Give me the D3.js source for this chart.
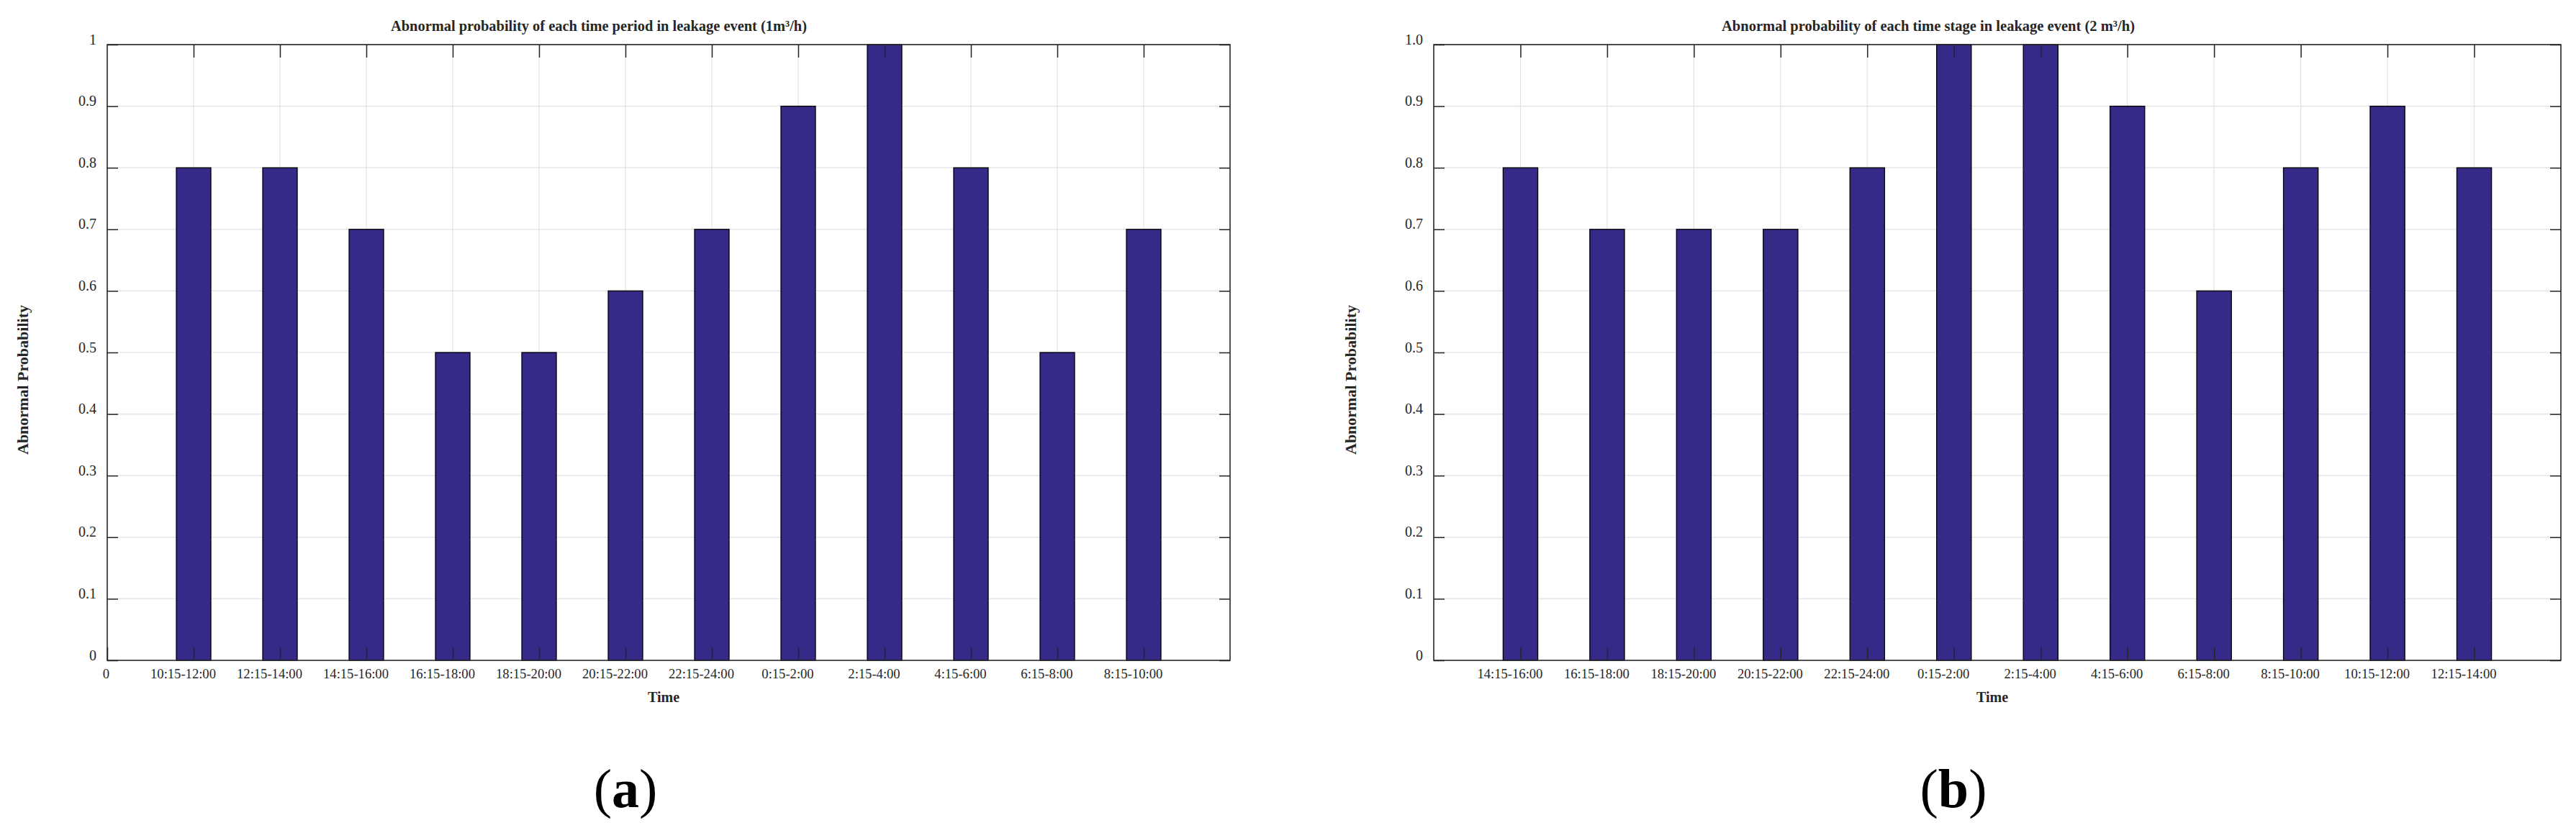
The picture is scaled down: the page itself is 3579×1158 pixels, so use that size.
<!DOCTYPE html>
<html>
<head>
<meta charset="utf-8">
<script src="https://cdn.jsdelivr.net/npm/d3@7"></script>
<style>
  html, body { margin: 0; padding: 0; background: #ffffff; }
  svg { display: block; }
  text { font-family: "Liberation Serif", "Times New Roman", serif; fill: #262626; }
</style>
</head>
<body>
<svg id="chart" width="3579" height="1158"></svg>
<script>
// ---------- data ----------
const categoriesA = ["10:15-12:00","12:15-14:00","14:15-16:00","16:15-18:00","18:15-20:00","20:15-22:00","22:15-24:00","0:15-2:00","2:15-4:00","4:15-6:00","6:15-8:00","8:15-10:00"];
const valuesA = [0.8, 0.8, 0.7, 0.5, 0.5, 0.6, 0.7, 0.9, 1.0, 0.8, 0.5, 0.7];
const yTickValues = [0, 0.1, 0.2, 0.3, 0.4, 0.5, 0.6, 0.7, 0.8, 0.9, 1.0];
const yTickLabelsA = ["0","0.1","0.2","0.3","0.4","0.5","0.6","0.7","0.8","0.9","1"];
const titleA = "Abnormal probability of each time period in leakage event (1m\u00B3/h)";

const categoriesB = ["14:15-16:00","16:15-18:00","18:15-20:00","20:15-22:00","22:15-24:00","0:15-2:00","2:15-4:00","4:15-6:00","6:15-8:00","8:15-10:00","10:15-12:00","12:15-14:00"];
const valuesB = [0.8, 0.7, 0.7, 0.7, 0.8, 1.0, 1.0, 0.9, 0.6, 0.8, 0.9, 0.8];
const yTickLabelsB = ["0","0.1","0.2","0.3","0.4","0.5","0.6","0.7","0.8","0.9","1.0"];
const titleB = "Abnormal probability of each time stage in leakage event (2 m\u00B3/h)";

const xLabel = "Time";
const yLabel = "Abnormal Probability";

// ---------- drawing ----------
const svg = d3.select("#chart");
svg.append("rect").attr("width", 3579).attr("height", 1158).attr("fill", "#ffffff");

const AXIS = "#262626", GRID = "#e1e1e1", BAR = "#352a87";

function drawPanel(cfg) {
  const x = d3.scaleLinear().domain([0, 13]).range([cfg.left, cfg.right]);
  const y = d3.scaleLinear().domain([0, 1]).range([918, 62]);
  const g = svg.append("g");
  const xTicks = d3.range(0, 13);

  // grid
  g.append("g").selectAll("line.vg").data(xTicks.slice(1)).join("line")
    .attr("x1", d => x(d)).attr("x2", d => x(d))
    .attr("y1", y(0)).attr("y2", y(1))
    .attr("stroke", GRID).attr("stroke-width", 1.2);
  g.append("g").selectAll("line.hg").data(yTickValues.slice(1)).join("line")
    .attr("x1", x(0)).attr("x2", x(13))
    .attr("y1", d => y(d)).attr("y2", d => y(d))
    .attr("stroke", GRID).attr("stroke-width", 1.2);

  // bars
  const bw = 0.4;
  g.append("g").selectAll("rect").data(cfg.values).join("rect")
    .attr("x", (d, i) => x(i + 1 - bw / 2))
    .attr("width", x(bw) - x(0))
    .attr("y", d => y(d))
    .attr("height", d => y(0) - y(d))
    .attr("fill", BAR).attr("stroke", "#000").attr("stroke-width", 1.3);

  // left axis
  const la = g.append("g").attr("transform", `translate(${x(0)},0)`)
    .call(d3.axisLeft(y).tickValues(yTickValues).tickSize(-15).tickPadding(15)
      .tickFormat((d, i) => cfg.yLabels[i]));
  la.select(".domain").remove();
  la.selectAll("line").attr("stroke", AXIS).attr("stroke-width", 1.5);
  la.selectAll("text").attr("dy", "-0.05em").style("font-size", "20px");

  // right axis (ticks only)
  const ra = g.append("g").attr("transform", `translate(${x(13)},0)`)
    .call(d3.axisRight(y).tickValues(yTickValues).tickSize(-15).tickFormat(""));
  ra.select(".domain").remove();
  ra.selectAll("line").attr("stroke", AXIS).attr("stroke-width", 1.5);

  // top axis (ticks only)
  const ta = g.append("g").attr("transform", `translate(0,${y(1)})`)
    .call(d3.axisTop(x).tickValues(xTicks.slice(1)).tickSize(-18).tickFormat(""));
  ta.select(".domain").remove();
  ta.selectAll("line").attr("stroke", AXIS).attr("stroke-width", 1.5);

  // bottom axis
  const ticksB = cfg.showZero ? xTicks : xTicks.slice(1);
  const ba = g.append("g").attr("transform", `translate(0,${y(0)})`)
    .call(d3.axisBottom(x).tickValues(ticksB).tickSize(-18).tickPadding(12)
      .tickFormat(d => d === 0 ? "0" : cfg.categories[d - 1]));
  ba.select(".domain").remove();
  ba.selectAll("line").attr("stroke", AXIS).attr("stroke-width", 1.5);
  ba.selectAll("text").style("font-size", "18.6px")
    .attr("dx", d => d === 0 ? -2 : -15);

  // box
  g.append("rect")
    .attr("x", x(0)).attr("y", y(1))
    .attr("width", x(13) - x(0)).attr("height", y(0) - y(1))
    .attr("fill", "none").attr("stroke", AXIS).attr("stroke-width", 1.6);

  // title
  g.append("text").attr("x", cfg.titleX).attr("y", 43)
    .attr("textLength", cfg.titleLen).attr("lengthAdjust", "spacingAndGlyphs")
    .style("font-size", "22px").style("font-weight", "bold").text(cfg.title);

  // x label
  g.append("text").attr("x", cfg.xLabelX).attr("y", 976).attr("text-anchor", "middle")
    .style("font-size", "20px").style("font-weight", "bold").text(xLabel);

  // y label
  g.append("text").attr("transform", `translate(${cfg.yLabelX},528) rotate(-90)`)
    .attr("text-anchor", "middle")
    .style("font-size", "22px").style("font-weight", "bold").text(yLabel);

  // panel letter
  const pl = g.append("text").attr("x", cfg.letterX).attr("y", 1122).attr("text-anchor", "middle")
    .style("font-size", "76px").style("fill", "#000");
  pl.append("tspan").style("fill", "#000").text("(");
  pl.append("tspan").style("fill", "#000").style("font-weight", "bold").text(cfg.letter);
  pl.append("tspan").style("fill", "#000").text(")");
}

drawPanel({
  left: 149, right: 1709, categories: categoriesA, values: valuesA,
  yLabels: yTickLabelsA, showZero: true,
  title: titleA, titleX: 543, titleLen: 578,
  xLabelX: 922, yLabelX: 39, letter: "a", letterX: 869
});
drawPanel({
  left: 1992, right: 3558, categories: categoriesB, values: valuesB,
  yLabels: yTickLabelsB, showZero: false,
  title: titleB, titleX: 2392, titleLen: 574,
  xLabelX: 2768, yLabelX: 1884, letter: "b", letterX: 2714
});
</script>
</body>
</html>
